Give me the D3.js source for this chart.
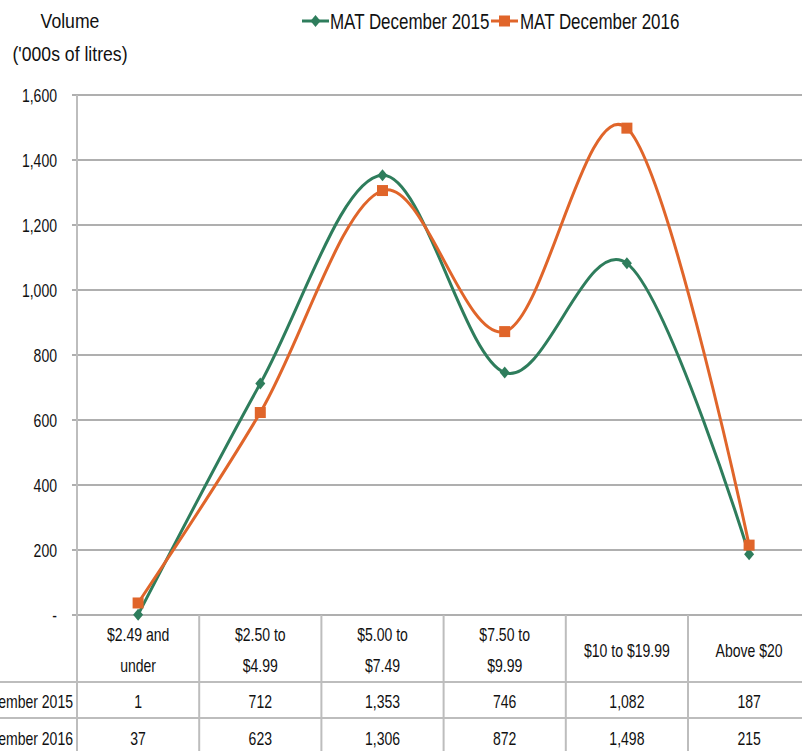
<!DOCTYPE html>
<html><head><meta charset="utf-8">
<script src="https://cdn.jsdelivr.net/npm/d3@7"></script>
<style>
body{margin:0;background:#fff;}
svg text{font-family:"Liberation Sans",Arial,sans-serif;fill:#111;}
</style></head>
<body><svg id="c" width="802" height="751"></svg>
<script>
const categories = [["$2.49 and","under"],["$2.50 to","$4.99"],["$5.00 to","$7.49"],["$7.50 to","$9.99"],["$10 to $19.99"],["Above $20"]];
const seriesNames = ["MAT December 2015","MAT December 2016"];
const mat2015 = [1,712,1353,746,1082,187];
const mat2016 = [37,623,1306,872,1498,215];
const yTicks = [0,200,400,600,800,1000,1200,1400,1600];
const colors = ["#2E7D5C","#E0652A"];

(function(){
const svg = d3.select("#c");
const pLeft = 77, colW = 122.2, pTop = 95, pBottom = 615;
const x = d3.scaleBand().domain(d3.range(categories.length)).range([pLeft, pLeft + colW*categories.length]);
const y = d3.scaleLinear().domain([0,1600]).range([pBottom, pTop]);
const fmt = d3.format(",");

function txt(px, py, s, size, anchor, sx){
  return svg.append("text")
    .attr("transform",`translate(${px},${py}) scale(${sx||0.78},1)`)
    .attr("text-anchor",anchor||"start").attr("font-size",size).text(s);
}

svg.append("g").selectAll("line").data(yTicks).join("line")
  .attr("x1",72).attr("x2",802).attr("y1",d=>y(d)).attr("y2",d=>y(d))
  .attr("stroke","#959595").attr("stroke-width",1.3);
yTicks.forEach(d=>txt(57, y(d)+7, d===0?"-":fmt(d), 18, "end"));

svg.append("line").attr("x1",pLeft).attr("x2",pLeft).attr("y1",pTop).attr("y2",751).attr("stroke","#bdbdbd").attr("stroke-width",2);

svg.append("g").selectAll("line").data(d3.range(1,categories.length+1)).join("line")
  .attr("x1",i=>x(0)+i*x.bandwidth()).attr("x2",i=>x(0)+i*x.bandwidth())
  .attr("y1",615).attr("y2",751).attr("stroke","#bdbdbd").attr("stroke-width",2);
svg.append("g").selectAll("line").data([682,718]).join("line")
  .attr("x1",0).attr("x2",802).attr("y1",d=>d).attr("y2",d=>d).attr("stroke","#bdbdbd").attr("stroke-width",2);
categories.forEach((c,i)=>{
  const cx = x(i)+x.bandwidth()/2;
  if(c.length===2){
    txt(cx, 641, c[0], 18, "middle");
    txt(cx, 672, c[1], 18, "middle");
  } else {
    txt(cx, 657, c[0], 18, "middle");
  }
});
[mat2015,mat2016].forEach((s,r)=>{
  const ty = r===0?708:745;
  txt(73, ty, seriesNames[r], 18, "end");
  s.forEach((d,i)=>txt(x(i)+x.bandwidth()/2, ty, fmt(d), 18, "middle"));
});

const line = d3.line().x((d,i)=>x(i)+x.bandwidth()/2).y(d=>y(d)).curve(d3.curveCardinal.tension(0));
[mat2015,mat2016].forEach((s,k)=>{
  svg.append("path").datum(s).attr("d",line).attr("fill","none").attr("stroke",colors[k]).attr("stroke-width",3);
});
svg.append("g").selectAll("path").data(mat2015).join("path")
  .attr("transform",(d,i)=>`translate(${x(i)+x.bandwidth()/2},${y(d)})`)
  .attr("d","M0,-6L5,0L0,6L-5,0Z").attr("fill",colors[0]);
svg.append("g").selectAll("rect").data(mat2016).join("rect")
  .attr("x",(d,i)=>x(i)+x.bandwidth()/2-5.5).attr("y",d=>y(d)-5.5).attr("width",11).attr("height",11).attr("fill",colors[1]);

txt(70, 28, "Volume", 21, "middle", 0.84);
txt(70, 61, "('000s of litres)", 21, "middle", 0.84);

const leg = [[302,330],[491,520]];
seriesNames.forEach((n,k)=>{
  const [lx,tx]=leg[k];
  svg.append("line").attr("x1",lx).attr("x2",lx+27).attr("y1",21).attr("y2",21).attr("stroke",colors[k]).attr("stroke-width",3);
  if(k===0) svg.append("path").attr("transform",`translate(${lx+13.5},21)`).attr("d","M0,-6L5,0L0,6L-5,0Z").attr("fill",colors[k]);
  else svg.append("rect").attr("x",lx+13.5-5.5).attr("y",21-5.5).attr("width",11).attr("height",11).attr("fill",colors[k]);
  txt(tx, 29, n, 22, "start", 0.77);
});
})();
</script></body></html>
